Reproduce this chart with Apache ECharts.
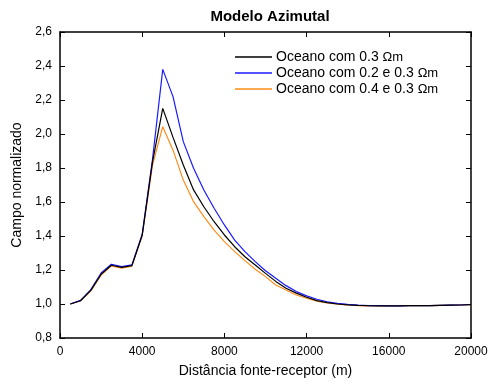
<!DOCTYPE html>
<html><head><meta charset="utf-8">
<script src="https://cdn.jsdelivr.net/npm/echarts@6/dist/echarts.min.js"></script>
<style>html,body{margin:0;padding:0;background:#fff}#c{width:492px;height:385px}</style>
</head><body><div id="c"></div>
<script>
const distances = [500,1000,1500,2000,2500,3000,3500,4000,4500,5000,5500,6000,6500,7000,7500,8000,8500,9000,9500,10000,10500,11000,11500,12000,12500,13000,13500,14000,14500,15000,15500,16000,16500,17000,17500,18000,18500,19000,19500,20000];
const seriesNames = ['Oceano com 0.3 ', 'Oceano com 0.2 e 0.3 ', 'Oceano com 0.4 e 0.3 '];
const oceano03 = [1.0,1.019,1.08,1.175,1.228,1.215,1.226,1.405,1.835,2.151,1.98,1.818,1.671,1.572,1.484,1.406,1.337,1.278,1.229,1.18,1.133,1.093,1.064,1.040,1.020,1.008,1.000,0.995,0.992,0.990,0.989,0.989,0.989,0.990,0.990,0.991,0.992,0.993,0.994,0.996];
const oceano02 = [1.0,1.021,1.085,1.182,1.234,1.22,1.23,1.41,1.85,2.38,2.22,1.955,1.798,1.671,1.563,1.465,1.376,1.308,1.249,1.196,1.151,1.108,1.073,1.048,1.028,1.013,1.004,0.998,0.994,0.991,0.990,0.989,0.989,0.990,0.990,0.991,0.992,0.993,0.994,0.997];
const oceano04 = [1.0,1.018,1.077,1.17,1.224,1.211,1.223,1.40,1.815,2.043,1.905,1.729,1.602,1.514,1.435,1.367,1.308,1.255,1.204,1.161,1.112,1.082,1.053,1.034,1.017,1.006,0.999,0.994,0.991,0.989,0.989,0.989,0.989,0.990,0.990,0.991,0.992,0.993,0.994,0.996];
const colors = ['#000000', '#1a1aff', '#ff8c1a'];
const yMin = 0.8, yMax = 2.6, yStep = 0.2;
const xMin = 0, xMax = 20000, xStep = 4000;

const values = [oceano03, oceano02, oceano04];
const font = 'Liberation Sans, Arial, sans-serif';
const chart = echarts.init(document.getElementById('c'), null, {renderer: 'canvas'});
const grid = {left: 60, right: 21, top: 32, bottom: 47, containLabel: false, outerBoundsMode: 'none'};
const axisLine = {show: true, onZero: false, lineStyle: {color: '#000', width: 1.5}};
chart.setOption({
  animation: false,
  backgroundColor: '#fff',
  title: {text: 'Modelo Azimutal', left: 265, top: 4, textAlign: 'center',
    textStyle: {fontFamily: font, fontSize: 15, fontWeight: 'bold', color: '#000'}},
  legend: {
    orient: 'vertical', left: 230, top: 45, itemWidth: 37, itemHeight: 1.5, itemGap: 2,
    icon: 'rect',
    data: seriesNames,
    formatter: n => n + '{o|Ωm}',
    textStyle: {fontFamily: font, fontSize: 14, color: '#000', padding: [0, 0, 0, -1], rich: {o: {fontFamily: font, fontSize: 13, color: '#000'}}}
  },
  grid: grid,
  xAxis: [{
    type: 'value', min: xMin, max: xMax, interval: xStep, position: 'bottom',
    name: 'Distância fonte-receptor (m)', nameLocation: 'middle', nameGap: 26,
    nameTextStyle: {fontFamily: font, fontSize: 14, color: '#000'},
    axisLine: axisLine, axisTick: {inside: true, length: 5, lineStyle: {color: '#000'}},
    axisLabel: {fontFamily: font, fontSize: 12, color: '#000', margin: 8, formatter: v => String(v)},
    splitLine: {show: false}
  }, {
    type: 'value', min: xMin, max: xMax, interval: xStep, position: 'top',
    axisLine: axisLine, axisTick: {inside: true, length: 5, lineStyle: {color: '#000'}},
    axisLabel: {show: false}, splitLine: {show: false}
  }],
  yAxis: [{
    type: 'value', min: yMin, max: yMax, interval: yStep, position: 'left',
    name: 'Campo normalizado', nameLocation: 'middle', nameGap: 32,
    nameTextStyle: {fontFamily: font, fontSize: 14, color: '#000'},
    axisLine: axisLine, axisTick: {inside: true, length: 5, lineStyle: {color: '#000'}},
    axisLabel: {fontFamily: font, fontSize: 12, color: '#000', margin: 8,
      formatter: v => v.toFixed(1).replace('.', ',')},
    splitLine: {show: false}
  }, {
    type: 'value', min: yMin, max: yMax, interval: yStep, position: 'right',
    axisLine: axisLine, axisTick: {inside: true, length: 5, lineStyle: {color: '#000'}},
    axisLabel: {show: false}, splitLine: {show: false}
  }],
  series: seriesNames.map((n, i) => ({
    name: n, type: 'line', symbol: 'none', xAxisIndex: 0, yAxisIndex: 0,
    data: distances.map((d, j) => [d, values[i][j]]),
    lineStyle: {color: colors[i], width: 1.2}, itemStyle: {color: colors[i]}, z: 3 - i
  }))
});
</script></body></html>
